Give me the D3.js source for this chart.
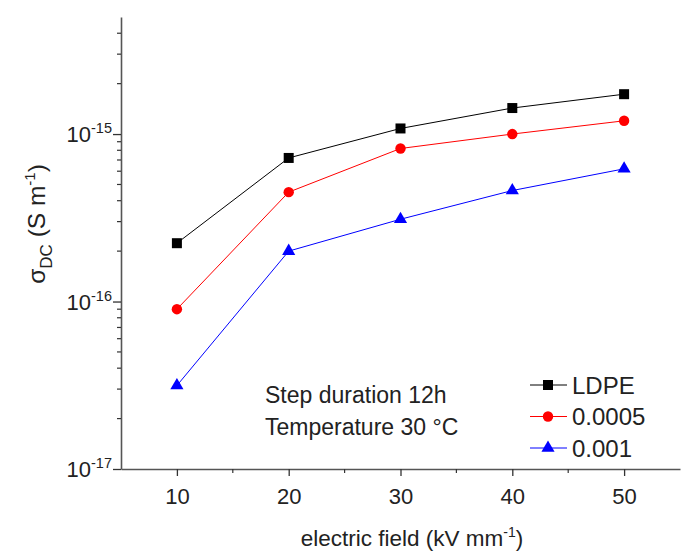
<!DOCTYPE html>
<html>
<head>
<meta charset="utf-8">
<script src="https://cdn.jsdelivr.net/npm/d3@7"></script>
<style>
  body { margin: 0; background: #fff; }
  text { font-family: "Liberation Sans", Arial, sans-serif; fill: #222; }
</style>
</head>
<body>
<svg id="chart" width="681" height="556"></svg>
<script>
// field values (kV/mm)
var fields = [10, 20, 30, 40, 50];
var ldpe = [2.23e-16, 7.2e-16, 1.08e-15, 1.43e-15, 1.73e-15];
var s0005 = [9.0e-17, 4.5e-16, 8.2e-16, 1.0e-15, 1.2e-15];
var s001 = [3.15e-17, 2.0e-16, 3.1e-16, 4.6e-16, 6.2e-16];
var seriesNames = ["LDPE", "0.0005", "0.001"];
var xTicks = [10, 20, 30, 40, 50];
var yMajor = [1e-17, 1e-16, 1e-15];

var svg = d3.select("#chart");
var plotL = 121, plotR = 680, plotT = 17, plotB = 469;

var x = d3.scaleLinear().domain([5, 55]).range([plotL, plotR]);
var y = d3.scaleLog().domain([1e-17, 5e-15]).range([plotB, plotT]);

var axisColor = "#555";

// x axis
var xAxis = svg.append("g")
    .attr("transform", "translate(0," + plotB + ")")
    .call(d3.axisBottom(x).tickValues(xTicks).tickSize(7).tickSizeOuter(0).tickFormat(d3.format("d")));
xAxis.select(".domain").attr("stroke", axisColor).attr("stroke-width", 1.6);
xAxis.selectAll(".tick line").attr("stroke", "#333").attr("stroke-width", 1.3);
xAxis.selectAll(".tick text").attr("dy", "1.15em").style("font-size", "22px").attr("fill", "#222")
    .style("font-family", "Liberation Sans, Arial, sans-serif");
// minor x ticks
svg.append("g").selectAll("line").data([15, 25, 35, 45]).enter().append("line")
    .attr("x1", function(d) { return x(d); }).attr("x2", function(d) { return x(d); })
    .attr("y1", plotB).attr("y2", plotB + 4)
    .attr("stroke", "#333").attr("stroke-width", 1.2);

// y axis
var yAxis = svg.append("g")
    .attr("transform", "translate(" + plotL + ",0)")
    .call(d3.axisLeft(y).tickValues(yMajor).tickSize(8).tickSizeOuter(0).tickFormat(""));
yAxis.select(".domain").attr("stroke", axisColor).attr("stroke-width", 1.6);
yAxis.selectAll(".tick line").attr("stroke", "#333").attr("stroke-width", 1.3);

// minor y ticks
var minor = [];
[1e-17, 1e-16, 1e-15].forEach(function(b) {
  for (var k = 2; k <= 9; k++) { if (b * k <= 5e-15) minor.push(b * k); }
});
svg.append("g").selectAll("line").data(minor).enter().append("line")
    .attr("x1", plotL).attr("x2", plotL - 4)
    .attr("y1", function(d) { return y(d); }).attr("y2", function(d) { return y(d); })
    .attr("stroke", "#333").attr("stroke-width", 1.2);

// y tick labels 10^-n
var yl = svg.append("g").selectAll("text").data(yMajor).enter().append("text")
    .attr("x", 112).attr("y", function(d) { return y(d) + 8; })
    .attr("text-anchor", "end").style("font-size", "22px");
yl.append("tspan").text("10");
yl.append("tspan").attr("dy", -9).style("font-size", "14.5px")
    .text(function(d) { return "-" + Math.round(-Math.log10(d)); });

// axis titles
var xt = svg.append("text").attr("x", 412).attr("y", 546).attr("text-anchor", "middle").style("font-size", "22.5px");
xt.append("tspan").text("electric field (kV mm");
xt.append("tspan").attr("dy", -9).style("font-size", "14px").text("-1");
xt.append("tspan").attr("dy", 9).text(")");

var yt = svg.append("text").attr("transform", "translate(45,224) rotate(-90)")
    .attr("text-anchor", "middle").style("font-size", "24.5px");
yt.append("tspan").text("σ");
yt.append("tspan").attr("dy", 7).style("font-size", "17px").text("DC");
yt.append("tspan").attr("dy", -7).text(" (S m");
yt.append("tspan").attr("dy", -10).style("font-size", "15px").text("-1");
yt.append("tspan").attr("dy", 10).text(")");

// series
var series = [
  {name: seriesNames[0], values: ldpe, color: "#000", symbol: d3.symbolSquare, size: 100},
  {name: seriesNames[1], values: s0005, color: "#ff0000", symbol: d3.symbolCircle, size: 85},
  {name: seriesNames[2], values: s001, color: "#0000ff", symbol: d3.symbolTriangle, size: 75}
];

var line = d3.line()
    .x(function(d) { return x(d[0]); })
    .y(function(d) { return y(d[1]); });

series.forEach(function(s) {
  var pts = fields.map(function(f, i) { return [f, s.values[i]]; });
  svg.append("path").datum(pts)
      .attr("fill", "none").attr("stroke", s.color).attr("stroke-width", 1)
      .attr("d", line);
  svg.append("g").selectAll("path").data(pts).enter().append("path")
      .attr("transform", function(d) { return "translate(" + x(d[0]) + "," + y(d[1]) + ")"; })
      .attr("d", d3.symbol().type(s.symbol).size(s.size))
      .attr("fill", s.color);
});

// legend
var leg = svg.append("g");
series.forEach(function(s, i) {
  var ly = 385 + i * 31.5;
  leg.append("line").attr("x1", 530).attr("x2", 567).attr("y1", ly).attr("y2", ly)
      .attr("stroke", s.color).attr("stroke-width", 1);
  leg.append("path").attr("transform", "translate(548," + ly + ")")
      .attr("d", d3.symbol().type(s.symbol).size(s.size)).attr("fill", s.color);
  leg.append("text").attr("x", 572).attr("y", ly + 8.5).style("font-size", "24px").text(s.name);
});

// annotation
svg.append("text").attr("x", 265).attr("y", 403).style("font-size", "23px").text("Step duration 12h");
svg.append("text").attr("x", 265).attr("y", 435).style("font-size", "23px").text("Temperature 30 °C");
</script>
</body>
</html>
